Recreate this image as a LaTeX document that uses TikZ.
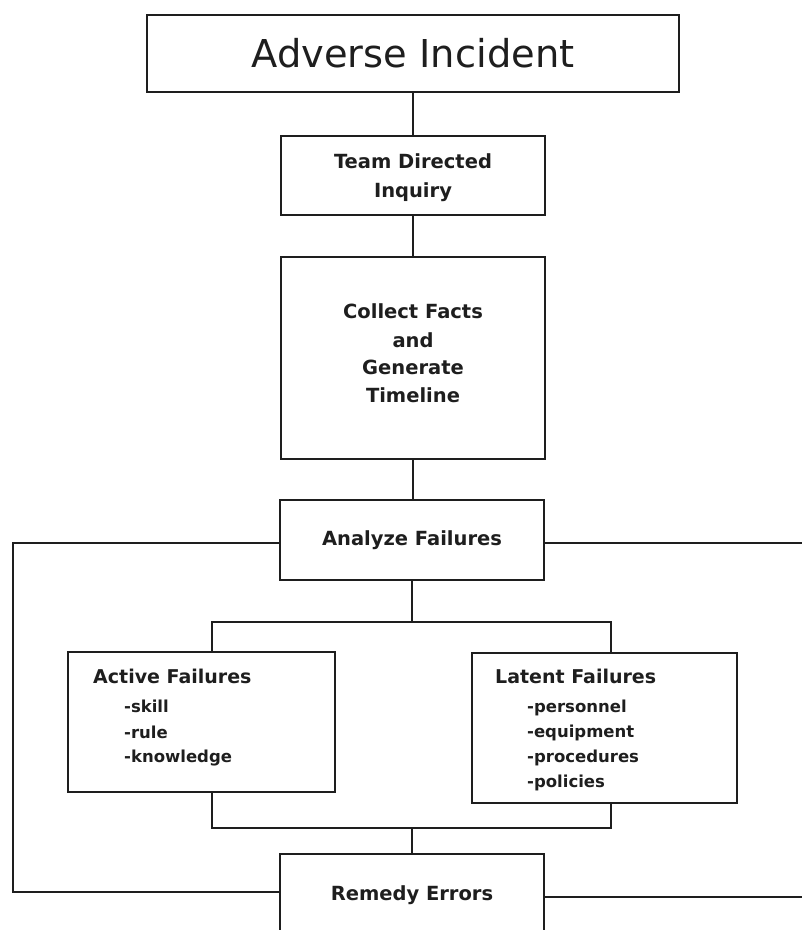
\documentclass[tikz,border=0pt]{standalone}
\usepackage{fontspec}
\setmainfont{DejaVu Sans}
\definecolor{ink}{HTML}{1E1E1E}
\begin{document}
\begin{tikzpicture}[x=1pt,y=-1pt,
  box/.style={draw=ink,line width=2pt,inner sep=0pt,fill=none},
  conn/.style={draw=ink,line width=2pt},
  lbl/.style={inner sep=0pt,text=ink,anchor=base},
  lft/.style={inner sep=0pt,text=ink,anchor=base west},
  big/.style={font=\fontsize{38.4}{38.4}\selectfont},
  mid/.style={font=\fontsize{19.5}{19.5}\selectfont\bfseries},
  ttl/.style={font=\fontsize{19}{19}\selectfont\bfseries},
  itm/.style={font=\fontsize{16.5}{16.5}\selectfont\bfseries}]
\useasboundingbox (0,0) rectangle (802,930);
\clip (0,0) rectangle (802,930);
% boxes
\node[box,minimum width=532pt,minimum height=77pt] (adv) at (413,53.5) {};
\node[box,minimum width=264pt,minimum height=79pt] (team) at (413,175.5) {};
\node[box,minimum width=264pt,minimum height=202pt] (collect) at (413,358) {};
\node[box,minimum width=264pt,minimum height=80pt] (analyze) at (412,540) {};
\node[box,minimum width=267pt,minimum height=140pt] (active) at (201.5,722) {};
\node[box,minimum width=265pt,minimum height=150pt] (latent) at (604.5,728) {};
\node[box,minimum width=264pt,minimum height=106pt] (remedy) at (411.5,907) {};
% texts
\node[lbl,big] (tadv) at (413,67) {Adverse Incident};
\node[lbl,mid] (tteam1) at (413,168) {Team Directed};
\node[lbl,mid] (tteam2) at (413,197) {Inquiry};
\node[lbl,mid] (tcol1) at (413,318) {Collect Facts};
\node[lbl,mid] (tcol2) at (413,347) {and};
\node[lbl,mid] (tcol3) at (413,374) {Generate};
\node[lbl,mid] (tcol4) at (413,402) {Timeline};
\node[lbl,mid] (tana) at (412,545) {Analyze Failures};
\node[lbl,mid] (trem) at (412,900) {Remedy Errors};
\node[lft,ttl] (tact) at (93,683) {Active Failures};
\node[lft,itm] (tact1) at (124,712) {-skill};
\node[lft,itm] (tact2) at (124,738) {-rule};
\node[lft,itm] (tact3) at (124,762) {-knowledge};
\node[lft,ttl] (tlat) at (495,683) {Latent Failures};
\node[lft,itm] (tlat1) at (527,712) {-personnel};
\node[lft,itm] (tlat2) at (527,737) {-equipment};
\node[lft,itm] (tlat3) at (527,762) {-procedures};
\node[lft,itm] (tlat4) at (527,787) {-policies};
% junction coordinates
\coordinate (jtop) at (412,622);
\coordinate (jtl) at (212,622);
\coordinate (jtr) at (611,622);
\coordinate (jbot) at (412,828);
\coordinate (jbl) at (212,828);
\coordinate (jbr) at (611,828);
\coordinate (lt) at (13,543);
\coordinate (lb) at (13,892);
\coordinate (rt) at (802,543);
\coordinate (rb) at (802,897);
% connectors
\draw[conn] (adv.south -| tadv) -- (team.north -| tadv);
\draw[conn] (team.south) -- (collect.north);
\draw[conn] (collect.south) -- (analyze.north -| collect.south);
\draw[conn] (analyze.south) -- (jtop);
\draw[conn] (active.north -| jtl) -- (jtl) -- (jtr) -- (latent.north -| jtr);
\draw[conn] (active.south -| jbl) -- (jbl) -- (jbr) -- (latent.south -| jbr);
\draw[conn] (jbot) -- (remedy.north -| jbot);
\draw[conn] (analyze.west |- lt) -- (lt) -- (lb) -- (remedy.west |- lb);
\draw[conn] (analyze.east |- rt) -- (rt);
\draw[conn] (remedy.east |- rb) -- (rb);
\end{tikzpicture}
\end{document}
